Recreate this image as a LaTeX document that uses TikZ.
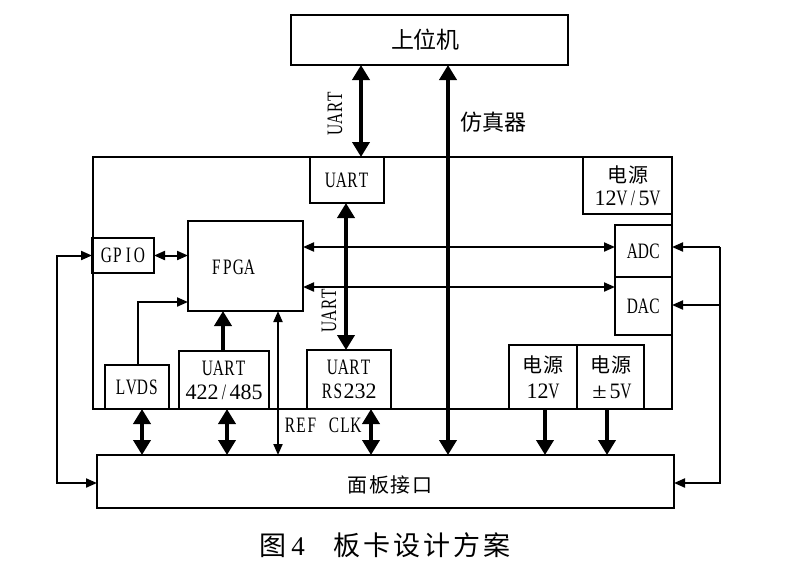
\documentclass[tikz,border=0pt]{standalone}
\usepackage{fontspec}
\usepackage{graphicx}
\setmainfont{Liberation Serif}[FakeStretch=0.7]
\newfontfamily\digfont{Liberation Serif}
\newfontfamily\cjk{Noto Sans CJK SC}
\usetikzlibrary{arrows.meta}
\newcommand\pitched[2]{\def\mypitch{#1}\pitchloop#2\relax}
\def\pitchloop#1{\ifx\relax#1\else\makebox[\mypitch][c]{#1}\expandafter\pitchloop\fi}
\newcommand\mono[1]{\pitched{11pt}{#1}}
\newcommand\dmono[1]{{\digfont\pitched{11pt}{#1}}}
\begin{document}
\begin{tikzpicture}[x=1pt,y=-1pt,
  box/.style={draw,line width=2.2pt,inner sep=0pt,outer sep=0pt,align=center,font=\fontsize{22}{24}\selectfont},
  lbl/.style={inner sep=0pt,font=\fontsize{22}{24}\selectfont},
  zh/.style={inner sep=0pt,font=\cjk\fontsize{21}{24}\selectfont},
  thk/.style={line width=4.5pt,>={Triangle[length=15pt,width=17pt]},<->},
  thkone/.style={line width=4.5pt,>={Triangle[length=15pt,width=17pt]},->},
  thn/.style={line width=2pt,>={Triangle[length=11pt,width=9pt]},<->},
  thnone/.style={line width=2pt,>={Triangle[length=11pt,width=9pt]},->}]
\useasboundingbox (0,0) rectangle (811,576);
% boxes
\node[box,minimum width=277pt,minimum height=50pt] (host) at (429.5,40) {};
\node[zh,font=\cjk\fontsize{23}{24}\selectfont] (hostlbl) at (425,40) {\pitched{22.5pt}{上位机}};
\node[box,minimum width=579pt,minimum height=252pt] (board) at (382.5,283) {};
\node[box,minimum width=74pt,minimum height=46pt] (uart1) at (347,180) {\mono{UART}};
\node[box,minimum width=89pt,minimum height=57pt,font=\fontsize{22}{23}\selectfont] (pwr1) at (627.5,185.5) {{\cjk\fontsize{20}{23}\selectfont\pitched{21pt}{电源}}\\\dmono{12}\mono{V/}\dmono{5}\mono{V}};
\node[box,minimum width=57pt,minimum height=52pt] (adc) at (643.5,251) {\mono{ADC}};
\node[box,minimum width=57pt,minimum height=58pt] (dac) at (643.5,306) {\mono{DAC}};
\node[box,minimum width=62pt,minimum height=35pt] (gpio) at (123,255.5) {\mono{GPIO}};
\node[box,minimum width=115pt,minimum height=90pt] (fpga) at (245.5,266) {};
\node[lbl] (fpgalbl) at (233,267) {\mono{FPGA}};
\node[box,minimum width=64pt,minimum height=44pt] (lvds) at (137,387) {\mono{LVDS}};
\node[box,minimum width=90pt,minimum height=58pt] (u422) at (224,380) {\mono{UART}\\\dmono{422}\mono{/}\dmono{485}};
\node[box,minimum width=84pt,minimum height=59pt] (rs232) at (349,379.5) {\mono{UART}\\\mono{RS}\dmono{232}};
\node[box,minimum width=68pt,minimum height=64pt,font=\fontsize{22}{26}\selectfont] (p12) at (543,377) {{\cjk\fontsize{20}{26}\selectfont\pitched{21pt}{电源}}\\\dmono{12}\mono{V}};
\node[box,minimum width=67pt,minimum height=64pt,font=\fontsize{22}{26}\selectfont] (p5) at (610.5,377) {{\cjk\fontsize{20}{26}\selectfont\pitched{21pt}{电源}}\\\makebox[20pt]{\scalebox{1.7}[1]{±}}\dmono{5}\mono{V}};
\node[box,minimum width=577pt,minimum height=53pt] (panel) at (385.5,481.5) {};
\node[zh,font=\cjk\fontsize{20}{24}\selectfont] (panellbl) at (390,485) {\pitched{21.5pt}{面板接口}};
% labels
\node[lbl,rotate=90] (uartlblA) at (335,113) {\mono{UART}};
\node[lbl,rotate=90] (uartlblB) at (329,310) {\mono{UART}};
\node[zh,font=\cjk\fontsize{22}{24}\selectfont] (simlbl) at (493,122) {\pitched{22pt}{仿真器}};
\node[lbl] (reflbl) at (323,425) {\mono{REF}\hspace{11pt}\mono{CLK}};
% connectors
\draw[thk] (361,0 |- host.south) -- (361,0 |- uart1.north);
\draw[thk,line width=4pt] (448,0 |- panel.north) -- (448,0 |- host.south);
\draw[thk] (346,0 |- uart1.south) -- (346,0 |- rs232.north);
\draw[thn] (fpga.east |- 0,247) -- (adc.west |- 0,247);
\draw[thn] (fpga.east |- 0,287) -- (dac.west |- 0,287);
\draw[thn] (gpio.east) -- (fpga.west |- gpio.east);
\draw[thn] (gpio.west) -| (57,483) -- (panel.west |- 0,483);
\draw[thnone] (138,0 |- lvds.north) |- (fpga.west |- 0,302);
\draw[thkone] (223,0 |- u422.north) -- (223,0 |- fpga.south);
\draw[thn] (278,0 |- fpga.south) -- (278,0 |- panel.north);
\draw[thk] (142,0 |- lvds.south) -- (142,0 |- panel.north);
\draw[thk] (227,0 |- u422.south) -- (227,0 |- panel.north);
\draw[thk] (371,0 |- rs232.south) -- (371,0 |- panel.north);
\draw[thkone] (545,0 |- p12.south) -- (545,0 |- panel.north);
\draw[thkone] (607,0 |- p5.south) -- (607,0 |- panel.north);
\coordinate (rtop) at (720,247);
\coordinate (rmid) at (720,305);
\coordinate (rbot) at (720,483);
\draw[thnone] (rtop) -- (rbot) -- (panel.east |- rbot);
\draw[thnone] (rtop) -- (adc.east |- rtop);
\draw[thnone] (rmid) -- (dac.east |- rmid);
% caption
\node[inner sep=0pt,anchor=west,font=\cjk\fontsize{27}{27}\selectfont] (caption) at (259,545) {\makebox[27pt]{图}\makebox[24pt]{\digfont\fontsize{27}{27}\selectfont 4}\hspace{22pt}\pitched{30pt}{板卡设计方案}};
\end{tikzpicture}
\end{document}
